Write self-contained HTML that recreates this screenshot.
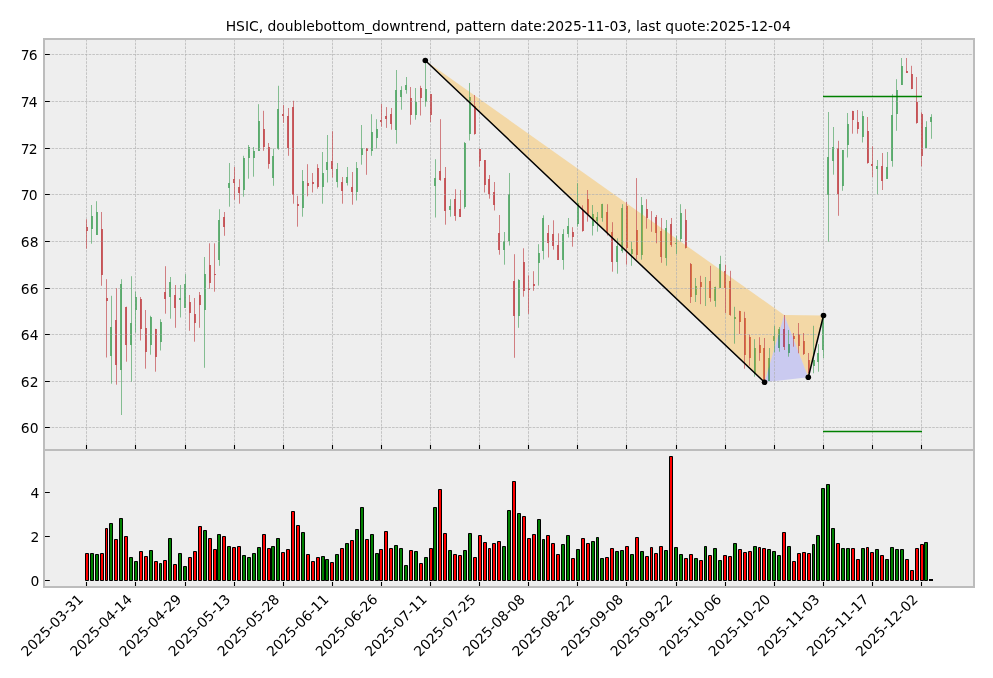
<!DOCTYPE html>
<html><head><meta charset="utf-8"><title>HSIC doublebottom_downtrend</title>
<style>html,body{margin:0;padding:0;background:#fff}svg{display:block;will-change:transform}text{font-family:"DejaVu Sans","Liberation Sans",sans-serif;fill:#000}</style></head><body>
<svg width="993" height="678" viewBox="0 0 993 678">
<rect x="0" y="0" width="993" height="678" fill="#fff"/>
<rect x="44" y="39" width="930" height="548" fill="#eeeeee"/>
<path d="M92 216V229M97 212V235M111 327V356M121 284V370M131 323V345M136 297V310M151 317V345M161 322V342M170 282V297M180 298V300M185 284V308M205 274V310M219 220V260M229 183V188M244 158V190M249 147V158M254 151V158M259 121V151M273 156V178M278 109V149M303 181V208M323 173V187M327 162V170M337 169V182M347 177V183M357 168V192M362 148V155M372 132V151M377 129V138M396 90V130M401 90V97M406 85V90M416 102V115M426 89V102M435 178V186M450 206V210M465 143V207M470 97V134M504 241V250M509 194V241M519 280V316M539 253V263M543 218V251M563 234V260M568 226V234M578 203V224M593 214V226M597 217V221M602 204V218M617 246V262M622 208V251M632 249V254M642 205V255M666 228V258M676 243V244M681 213V239M696 286V295M715 287V301M720 264V288M735 317V319M755 348V374M769 358V381M774 336V341M779 329V348M789 344V353M814 360V366M818 353V362M823 318V350M828 157V195M833 147V161M843 150V186M848 124V145M863 116V137M877 166V169M887 167V179M892 115V161M897 90V114M902 66V85M926 127V148M931 117V122" stroke="#55A868" stroke-width="1.8" fill="none"/>
<path d="M87 227V231M102 229V275M107 298V301M116 320V365M126 307V345M141 299V329M146 328V352M156 329V357M165 292V299M175 295V308M190 302V313M195 314V323M200 295V305M210 265V283M215 274V275M224 217V227M234 179V183M239 187V193M264 129V147M269 147V164M283 114V116M288 116V148M293 107V195M298 204V206M308 183V186M313 182V184M318 168V187M332 161V169M342 182V191M352 187V192M367 148V151M381 120V122M386 116V119M391 114V124M411 98V115M421 88V98M431 94V115M440 171V180M445 178V211M455 199V216M460 209V217M475 106V134M480 149V161M485 160V185M489 179V194M494 192V205M499 233V250M514 281V316M524 262V291M529 288V290M534 284V286M548 233V243M553 234V246M558 245V260M573 232V237M583 210V231M588 199V214M607 212V233M612 232V262M627 206V248M637 230V255M647 209V218M656 217V233M661 231V257M671 224V245M686 220V248M691 264V297M701 282V287M710 281V298M725 271V288M730 281V315M740 311V322M745 318V355M750 337V358M760 345V353M764 348V380M784 329V347M794 336V339M799 334V346M804 341V354M809 360V373M838 148V194M853 111V120M858 122V129M868 131V163M872 164V166M882 166V181M907 71V73M912 74V89M917 102V123M922 114V156" stroke="#C44E52" stroke-width="1.8" fill="none"/>
<polygon points="425.3,60.5 764.5,382.2 784.2,315" fill="#ffa500" fill-opacity="0.3"/>
<polygon points="784.2,315 808.3,377.2 823.5,315.5" fill="#ffa500" fill-opacity="0.3"/>
<polygon points="764.5,382.2 784.2,315 808.3,377.2" fill="#0000ff" fill-opacity="0.15"/>
<path d="M86.5 39V450M135.5 39V450M185.5 39V450M234.5 39V450M283.5 39V450M332.5 39V450M381.5 39V450M430.5 39V450M479.5 39V450M528.5 39V450M577.5 39V450M626.5 39V450M676.5 39V450M725.5 39V450M774.5 39V450M823.5 39V450M872.5 39V450M921.5 39V450" stroke="#b2b2b2" stroke-width="0.7" stroke-dasharray="2.6 1.1" fill="none"/><path d="M44 427.5H974M44 381.5H974M44 334.5H974M44 288.5H974M44 241.5H974M44 194.5H974M44 148.5H974M44 101.5H974M44 54.5H974" stroke="#b2b2b2" stroke-width="0.7" stroke-dasharray="2.6 1.1" stroke-dashoffset="3.47" fill="none"/>
<path d="M91.5 205V243.7M96.5 201.2V234.7M111.5 295.8V383.7M121.5 279.2V415M131.5 276.2V381.7M135.5 291.7V332.5M150.5 315.8V354.7M160.5 319.2V350.5M170.5 277V318.7M180.5 285V317.5M185.5 274.2V308M204.5 257V367.8M219.5 209.2V265.8M229.5 163V206.7M243.5 155.8V196.7M248.5 145V178.7M253.5 147V176.7M258.5 104.2V150.8M273.5 148.7V185.8M278.5 85.8V149.7M302.5 170V216.7M322.5 152V203.7M327.5 135V182.5M337.5 163V187.5M347.5 167V185.5M356.5 162V200.5M361.5 125V164.7M371.5 114.2V155.8M376.5 119.2V148.7M396.5 70V143.7M401.5 86.2V109.7M406.5 77V93.7M415.5 88V119.7M425.5 62.5V106.7M435.5 159.2V217.5M450.5 199.2V216.7M464.5 142V208.7M469.5 83V140.5M504.5 232V264.7M509.5 173V245.5M518.5 279.2V327.8M538.5 244.2V285.6M543.5 215.3V259.5M563.5 229.2V269.7M568.5 218V237.5M577.5 183.2V226.7M592.5 205V235.5M597.5 212V231.7M602.5 203.8V221.7M617.5 238.3V273.7M622.5 204.2V252.8M631.5 241.7V265.8M641.5 197V259.7M666.5 220V265.7M676.5 235.8V254M680.5 204.2V241.7M695.5 278V302M705.5 277V306M715.5 286.7V306.8M720.5 255.8V288M734.5 306.8V343.7M754.5 339.2V376.7M769.5 348V380.8M774.5 325.8V352.5M779.5 327V351.7M788.5 330V356.7M813.5 325.8V373.3M818.5 344.2V371.7M823.5 317.5V358M828.5 112V241.7M833.5 127V174.7M842.5 150V190.8M847.5 113V157.5M862.5 111.2V142.5M877.5 160V194.2M887.5 152V178.7M892.5 94.2V166.7M896.5 79.2V130.8M901.5 58V85M926.5 121.2V148M931.5 114.2V138.8" stroke="#55A868" stroke-width="0.7" fill="none"/>
<path d="M86.5 219.2V248.7M101.5 212V285.8M106.5 279.2V357.5M116.5 288.3V384.7M126.5 306.7V361.7M140.5 297V340.5M145.5 310V368.7M155.5 328.8V371.7M165.5 266.2V313.7M175.5 285V327.8M189.5 295V330.8M194.5 298V341.7M199.5 292V327.8M209.5 243.3V288.7M214.5 243.3V291.7M224.5 212V235.8M234.5 167V199.7M239.5 179.2V203.7M263.5 110.8V150.8M268.5 143V168.7M283.5 105V122.8M288.5 108V155.8M293.5 100.8V203.7M297.5 195.8V226.7M307.5 164.2V196.3M312.5 173V192.5M317.5 164.2V188.7M332.5 131.2V177.5M342.5 177V203.7M352.5 172V204.7M366.5 148V174.8M381.5 104V126.7M386.5 107.1V127.9M391.5 108V129.7M410.5 87V124.7M420.5 85.8V115.5M430.5 94.2V122M440.5 119.2V180.8M445.5 167V224.7M455.5 189.2V220.8M460.5 190V217M474.5 95V134.7M479.5 148.8V166.7M484.5 160V192.5M489.5 175V198.7M494.5 182V210.5M499.5 215V254.7M514.5 254.2V357.8M523.5 248.3V296.7M528.5 275.3V313.8M533.5 271.2V290.8M548.5 225V257.5M553.5 220.3V249.7M558.5 233.3V259.7M572.5 227.2V246.7M582.5 205.3V231.7M587.5 190V221.7M607.5 204.2V235.5M612.5 222.2V271.7M626.5 201.7V264.7M636.5 178.1V259.5M646.5 199.2V228.7M651.5 211.1V231.8M656.5 215V243.3M661.5 218V262.8M671.5 218V246.8M685.5 209.2V248.5M690.5 263V303M700.5 275.8V304.2M710.5 265.8V301.8M725.5 264.7V313M730.5 270.8V315.8M739.5 310.8V334M744.5 311.8V368.7M749.5 334.7V365.8M759.5 337.2V360.8M764.5 338V380.8M784.5 315V350M793.5 333V346.7M798.5 323V353.3M803.5 333V355M808.5 353V373.3M838.5 140.8V215.8M852.5 110.8V133.7M857.5 110V133.7M867.5 117V163.7M872.5 146.3V177M882.5 153V190M906.5 58V72.8M911.5 65.8V89.2M916.5 77V123.7M921.5 112.2V166.3" stroke="#C44E52" stroke-width="0.7" fill="none"/>
<path d="M823 96.5H922M823 431.5H922" stroke="#008000" stroke-width="1.4" fill="none"/>
<path d="M425.3 60.5L764.5 382.2M808.3 377.2L823.5 315.5" stroke="#000" stroke-width="1.5" fill="none"/>
<circle cx="425.3" cy="60.5" r="2.8" fill="#000"/>
<circle cx="764.5" cy="382.2" r="2.8" fill="#000"/>
<circle cx="808.3" cy="377.2" r="2.8" fill="#000"/>
<circle cx="823.5" cy="315.5" r="2.8" fill="#000"/>
<path d="M90.5 580.5V553.5H93.5V580.5ZM95.5 580.5V554.5H98.5V580.5ZM109.5 580.5V523.5H112.5V580.5ZM119.5 580.5V518.5H122.5V580.5ZM129.5 580.5V557.5H132.5V580.5ZM134.5 580.5V561.5H137.5V580.5ZM149.5 580.5V550.5H152.5V580.5ZM159.5 580.5V563.5H161.5V580.5ZM168.5 580.5V538.5H171.5V580.5ZM178.5 580.5V553.5H181.5V580.5ZM183.5 580.5V566.5H186.5V580.5ZM203.5 580.5V530.5H206.5V580.5ZM217.5 580.5V534.5H220.5V580.5ZM227.5 580.5V546.5H230.5V580.5ZM242.5 580.5V555.5H245.5V580.5ZM247.5 580.5V557.5H250.5V580.5ZM252.5 580.5V553.5H255.5V580.5ZM257.5 580.5V547.5H260.5V580.5ZM271.5 580.5V546.5H274.5V580.5ZM276.5 580.5V538.5H279.5V580.5ZM301.5 580.5V532.5H304.5V580.5ZM321.5 580.5V556.5H324.5V580.5ZM325.5 580.5V559.5H328.5V580.5ZM335.5 580.5V554.5H338.5V580.5ZM345.5 580.5V543.5H348.5V580.5ZM355.5 580.5V529.5H358.5V580.5ZM360.5 580.5V507.5H363.5V580.5ZM370.5 580.5V534.5H373.5V580.5ZM375.5 580.5V553.5H378.5V580.5ZM394.5 580.5V545.5H397.5V580.5ZM399.5 580.5V548.5H402.5V580.5ZM404.5 580.5V565.5H407.5V580.5ZM414.5 580.5V551.5H417.5V580.5ZM424.5 580.5V557.5H427.5V580.5ZM433.5 580.5V507.5H436.5V580.5ZM448.5 580.5V550.5H451.5V580.5ZM463.5 580.5V550.5H466.5V580.5ZM468.5 580.5V533.5H471.5V580.5ZM502.5 580.5V546.5H505.5V580.5ZM507.5 580.5V510.5H510.5V580.5ZM517.5 580.5V513.5H520.5V580.5ZM537.5 580.5V519.5H540.5V580.5ZM542.5 580.5V539.5H544.5V580.5ZM561.5 580.5V544.5H564.5V580.5ZM566.5 580.5V535.5H569.5V580.5ZM576.5 580.5V549.5H579.5V580.5ZM591.5 580.5V541.5H594.5V580.5ZM596.5 580.5V537.5H598.5V580.5ZM600.5 580.5V558.5H603.5V580.5ZM615.5 580.5V551.5H618.5V580.5ZM620.5 580.5V550.5H623.5V580.5ZM630.5 580.5V554.5H633.5V580.5ZM640.5 580.5V551.5H643.5V580.5ZM664.5 580.5V550.5H667.5V580.5ZM674.5 580.5V547.5H677.5V580.5ZM679.5 580.5V554.5H682.5V580.5ZM694.5 580.5V558.5H697.5V580.5ZM704.5 580.5V546.5H706.5V580.5ZM713.5 580.5V548.5H716.5V580.5ZM718.5 580.5V560.5H721.5V580.5ZM733.5 580.5V543.5H736.5V580.5ZM753.5 580.5V546.5H756.5V580.5ZM767.5 580.5V549.5H770.5V580.5ZM772.5 580.5V551.5H775.5V580.5ZM777.5 580.5V555.5H780.5V580.5ZM787.5 580.5V546.5H790.5V580.5ZM812.5 580.5V544.5H814.5V580.5ZM816.5 580.5V535.5H819.5V580.5ZM821.5 580.5V488.5H824.5V580.5ZM826.5 580.5V484.5H829.5V580.5ZM831.5 580.5V528.5H834.5V580.5ZM841.5 580.5V548.5H844.5V580.5ZM846.5 580.5V548.5H849.5V580.5ZM861.5 580.5V548.5H864.5V580.5ZM875.5 580.5V549.5H878.5V580.5ZM885.5 580.5V559.5H888.5V580.5ZM890.5 580.5V547.5H893.5V580.5ZM895.5 580.5V549.5H898.5V580.5ZM900.5 580.5V549.5H903.5V580.5ZM924.5 580.5V542.5H927.5V580.5Z" fill="#008000" stroke="#000" stroke-width="1"/>
<path d="M85.5 580.5V553.5H88.5V580.5ZM100.5 580.5V553.5H103.5V580.5ZM105.5 580.5V528.5H107.5V580.5ZM114.5 580.5V539.5H117.5V580.5ZM124.5 580.5V536.5H127.5V580.5ZM139.5 580.5V551.5H142.5V580.5ZM144.5 580.5V556.5H147.5V580.5ZM154.5 580.5V561.5H157.5V580.5ZM163.5 580.5V560.5H166.5V580.5ZM173.5 580.5V564.5H176.5V580.5ZM188.5 580.5V557.5H191.5V580.5ZM193.5 580.5V551.5H196.5V580.5ZM198.5 580.5V526.5H201.5V580.5ZM208.5 580.5V538.5H211.5V580.5ZM213.5 580.5V549.5H216.5V580.5ZM222.5 580.5V536.5H225.5V580.5ZM232.5 580.5V547.5H235.5V580.5ZM237.5 580.5V546.5H240.5V580.5ZM262.5 580.5V534.5H265.5V580.5ZM267.5 580.5V548.5H270.5V580.5ZM281.5 580.5V552.5H284.5V580.5ZM286.5 580.5V549.5H289.5V580.5ZM291.5 580.5V511.5H294.5V580.5ZM296.5 580.5V525.5H299.5V580.5ZM306.5 580.5V554.5H309.5V580.5ZM311.5 580.5V561.5H314.5V580.5ZM316.5 580.5V557.5H319.5V580.5ZM330.5 580.5V562.5H333.5V580.5ZM340.5 580.5V548.5H343.5V580.5ZM350.5 580.5V540.5H353.5V580.5ZM365.5 580.5V539.5H368.5V580.5ZM379.5 580.5V549.5H382.5V580.5ZM384.5 580.5V531.5H387.5V580.5ZM389.5 580.5V548.5H392.5V580.5ZM409.5 580.5V550.5H412.5V580.5ZM419.5 580.5V563.5H422.5V580.5ZM429.5 580.5V548.5H432.5V580.5ZM438.5 580.5V489.5H441.5V580.5ZM443.5 580.5V533.5H446.5V580.5ZM453.5 580.5V554.5H456.5V580.5ZM458.5 580.5V555.5H461.5V580.5ZM473.5 580.5V557.5H476.5V580.5ZM478.5 580.5V535.5H481.5V580.5ZM483.5 580.5V542.5H486.5V580.5ZM488.5 580.5V548.5H490.5V580.5ZM492.5 580.5V543.5H495.5V580.5ZM497.5 580.5V541.5H500.5V580.5ZM512.5 580.5V481.5H515.5V580.5ZM522.5 580.5V516.5H525.5V580.5ZM527.5 580.5V538.5H530.5V580.5ZM532.5 580.5V534.5H535.5V580.5ZM546.5 580.5V535.5H549.5V580.5ZM551.5 580.5V543.5H554.5V580.5ZM556.5 580.5V554.5H559.5V580.5ZM571.5 580.5V558.5H574.5V580.5ZM581.5 580.5V538.5H584.5V580.5ZM586.5 580.5V543.5H589.5V580.5ZM605.5 580.5V557.5H608.5V580.5ZM610.5 580.5V548.5H613.5V580.5ZM625.5 580.5V546.5H628.5V580.5ZM635.5 580.5V537.5H638.5V580.5ZM645.5 580.5V556.5H648.5V580.5ZM650.5 580.5V547.5H652.5V580.5ZM654.5 580.5V553.5H657.5V580.5ZM659.5 580.5V546.5H662.5V580.5ZM669.5 580.5V456.5H672.5V580.5ZM684.5 580.5V558.5H687.5V580.5ZM689.5 580.5V554.5H692.5V580.5ZM699.5 580.5V560.5H702.5V580.5ZM708.5 580.5V555.5H711.5V580.5ZM723.5 580.5V555.5H726.5V580.5ZM728.5 580.5V556.5H731.5V580.5ZM738.5 580.5V549.5H741.5V580.5ZM743.5 580.5V552.5H746.5V580.5ZM748.5 580.5V551.5H751.5V580.5ZM758.5 580.5V547.5H760.5V580.5ZM762.5 580.5V548.5H765.5V580.5ZM782.5 580.5V532.5H785.5V580.5ZM792.5 580.5V561.5H795.5V580.5ZM797.5 580.5V553.5H800.5V580.5ZM802.5 580.5V552.5H805.5V580.5ZM807.5 580.5V553.5H810.5V580.5ZM836.5 580.5V543.5H839.5V580.5ZM851.5 580.5V548.5H854.5V580.5ZM856.5 580.5V559.5H859.5V580.5ZM866.5 580.5V547.5H868.5V580.5ZM870.5 580.5V552.5H873.5V580.5ZM880.5 580.5V555.5H883.5V580.5ZM905.5 580.5V559.5H908.5V580.5ZM910.5 580.5V570.5H913.5V580.5ZM915.5 580.5V548.5H918.5V580.5ZM920.5 580.5V544.5H923.5V580.5Z" fill="#ff0000" stroke="#000" stroke-width="1"/>
<rect x="929" y="579" width="4" height="2" fill="#000"/>
<path d="M86.5 450v-4.9M86.5 587v-4.9M135.5 450v-4.9M135.5 587v-4.9M185.5 450v-4.9M185.5 587v-4.9M234.5 450v-4.9M234.5 587v-4.9M283.5 450v-4.9M283.5 587v-4.9M332.5 450v-4.9M332.5 587v-4.9M381.5 450v-4.9M381.5 587v-4.9M430.5 450v-4.9M430.5 587v-4.9M479.5 450v-4.9M479.5 587v-4.9M528.5 450v-4.9M528.5 587v-4.9M577.5 450v-4.9M577.5 587v-4.9M626.5 450v-4.9M626.5 587v-4.9M676.5 450v-4.9M676.5 587v-4.9M725.5 450v-4.9M725.5 587v-4.9M774.5 450v-4.9M774.5 587v-4.9M823.5 450v-4.9M823.5 587v-4.9M872.5 450v-4.9M872.5 587v-4.9M921.5 450v-4.9M921.5 587v-4.9M44 427.5h5.8M44 381.5h5.8M44 334.5h5.8M44 288.5h5.8M44 241.5h5.8M44 194.5h5.8M44 148.5h5.8M44 101.5h5.8M44 54.5h5.8M44 580.5h5.8M44 536.5h5.8M44 492.5h5.8" stroke="#000" stroke-width="1.1" fill="none"/>
<path d="M44 39H974V587H44ZM44 450H974" stroke="#bcbcbc" stroke-width="2" fill="none"/>
<text x="38.9" y="432.9" font-size="13.89" text-anchor="end" letter-spacing="0.2">60</text>
<text x="38.9" y="386.9" font-size="13.89" text-anchor="end" letter-spacing="0.2">62</text>
<text x="38.9" y="339.9" font-size="13.89" text-anchor="end" letter-spacing="0.2">64</text>
<text x="38.9" y="293.9" font-size="13.89" text-anchor="end" letter-spacing="0.2">66</text>
<text x="38.9" y="246.9" font-size="13.89" text-anchor="end" letter-spacing="0.2">68</text>
<text x="36.9" y="199.9" font-size="13.89" text-anchor="end" letter-spacing="-0.7">70</text>
<text x="36.9" y="153.9" font-size="13.89" text-anchor="end" letter-spacing="-0.7">72</text>
<text x="36.9" y="106.9" font-size="13.89" text-anchor="end" letter-spacing="-0.7">74</text>
<text x="36.9" y="59.9" font-size="13.89" text-anchor="end" letter-spacing="-0.7">76</text>
<text x="39.3" y="586" font-size="13.89" text-anchor="end">0</text>
<text x="39.3" y="542" font-size="13.89" text-anchor="end">2</text>
<text x="39.3" y="498" font-size="13.89" text-anchor="end">4</text>
<text transform="translate(83.98 600.3) rotate(-45)" font-size="13.89" text-anchor="end">2025-03-31</text>
<text transform="translate(133.07 600.3) rotate(-45)" font-size="13.89" text-anchor="end">2025-04-14</text>
<text transform="translate(182.17 600.3) rotate(-45)" font-size="13.89" text-anchor="end">2025-04-29</text>
<text transform="translate(231.27 600.3) rotate(-45)" font-size="13.89" text-anchor="end">2025-05-13</text>
<text transform="translate(280.37 600.3) rotate(-45)" font-size="13.89" text-anchor="end">2025-05-28</text>
<text transform="translate(329.46 600.3) rotate(-45)" font-size="13.89" text-anchor="end">2025-06-11</text>
<text transform="translate(378.56 600.3) rotate(-45)" font-size="13.89" text-anchor="end">2025-06-26</text>
<text transform="translate(427.66 600.3) rotate(-45)" font-size="13.89" text-anchor="end">2025-07-11</text>
<text transform="translate(476.76 600.3) rotate(-45)" font-size="13.89" text-anchor="end">2025-07-25</text>
<text transform="translate(525.85 600.3) rotate(-45)" font-size="13.89" text-anchor="end">2025-08-08</text>
<text transform="translate(574.95 600.3) rotate(-45)" font-size="13.89" text-anchor="end">2025-08-22</text>
<text transform="translate(624.05 600.3) rotate(-45)" font-size="13.89" text-anchor="end">2025-09-08</text>
<text transform="translate(673.15 600.3) rotate(-45)" font-size="13.89" text-anchor="end">2025-09-22</text>
<text transform="translate(722.24 600.3) rotate(-45)" font-size="13.89" text-anchor="end">2025-10-06</text>
<text transform="translate(771.34 600.3) rotate(-45)" font-size="13.89" text-anchor="end">2025-10-20</text>
<text transform="translate(820.44 600.3) rotate(-45)" font-size="13.89" text-anchor="end">2025-11-03</text>
<text transform="translate(869.53 600.3) rotate(-45)" font-size="13.89" text-anchor="end">2025-11-17</text>
<text transform="translate(918.63 600.3) rotate(-45)" font-size="13.89" text-anchor="end">2025-12-02</text>
<text x="508.2" y="31" font-size="13.89" text-anchor="middle">HSIC, doublebottom_downtrend, pattern date:2025-11-03, last quote:2025-12-04</text>
</svg></body></html>
